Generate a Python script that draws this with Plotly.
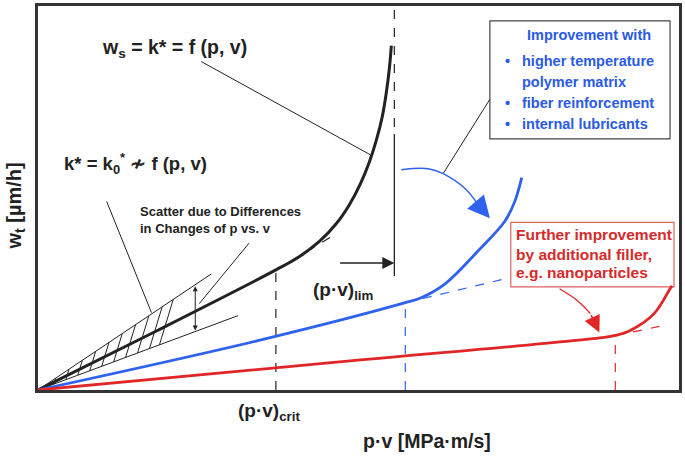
import plotly.graph_objects as go

# ---- data (schematic, x: p·v, y: w_t, arbitrary units) ----
black_x = [0, 120, 239, 262, 283, 300, 313, 324, 333, 340, 346, 350, 353, 355]
black_y = [0, 60, 121, 134, 150, 168, 187, 208, 230, 252, 276, 300, 324, 347]
blue_x = [0, 222, 369, 385, 409, 442, 469, 479, 486]
blue_y = [0, 50, 88, 93, 107, 140, 170, 190, 214]
red_x = [0, 300, 569, 580, 595, 619, 635, 637]
red_y = [0, 28, 53, 55, 60, 77, 102, 105]

crit_black = (239, 121)
crit_blue = (369, 88)
crit_red = (580, 55)
tangent_black_end = (299, 157)
tangent_blue_end = (469, 112)
tangent_red_end = (629, 65)

scatter_upper_slope = 0.672
scatter_lower_slope = 0.373
scatter_upper_end = 174
scatter_lower_end = 201
hatch_bottoms = [16, 28, 40, 52, 64, 76, 88, 100, 112, 122]
hatch_steep = 3.3

lim_x = 358
blue_arc_x = [365, 392, 407, 429, 442]
blue_arc_y = [222, 223, 218, 203, 187]
red_arc_x = [524, 542, 555]
red_arc_y = [102, 90, 77]

X_MAX, Y_MAX = 644, 387

BLACK = "#222222"
BLUE = "#2f62ee"
BLUE_T = "#2a5ae6"
RED = "#e02626"
RED_T = "#d62a2a"
FONT = "Liberation Sans, Arial, sans-serif"

fig = go.Figure()

def line(xs, ys, color, width, dash="solid", shape="linear"):
    fig.add_trace(go.Scatter(x=xs, y=ys, mode="lines", hoverinfo="skip",
                             line=dict(color=color, width=width, dash=dash, shape=shape),
                             showlegend=False))

# scatter band
line([0, scatter_upper_end], [0, scatter_upper_slope * scatter_upper_end], BLACK, 1)
line([0, scatter_lower_end], [0, scatter_lower_slope * scatter_lower_end], BLACK, 1)
for b in hatch_bottoms:
    t = (scatter_upper_slope - scatter_lower_slope) * b / (hatch_steep - scatter_upper_slope)
    line([b, b + t], [scatter_lower_slope * b, scatter_lower_slope * b + hatch_steep * t], BLACK, 1)

# dashed helpers
line([crit_black[0], crit_black[0]], [0, crit_black[1]], BLACK, 1.2, "dash")
line([crit_blue[0], crit_blue[0]], [0, crit_blue[1]], BLUE, 1.2, "dash")
line([crit_red[0], crit_red[0]], [0, crit_red[1]], RED, 1.2, "dash")
line([crit_black[0], tangent_black_end[0]], [crit_black[1], tangent_black_end[1]], BLACK, 1.2, "dash")
line([crit_blue[0], tangent_blue_end[0]], [crit_blue[1], tangent_blue_end[1]], BLUE, 1.2, "dash")
line([crit_red[0], tangent_red_end[0]], [crit_red[1], tangent_red_end[1]], RED, 1.2, "dash")
line([lim_x, lim_x], [265, 387], BLACK, 1.2, "dash")
line([lim_x, lim_x], [115, 258], BLACK, 1.3)

# main curves
line(black_x, black_y, BLACK, 3, shape="spline")
line(blue_x, blue_y, BLUE, 2.8, shape="spline")
line(red_x, red_y, RED, 2.8, shape="spline")

# leader lines
line([164, 334], [331, 237], BLACK, 1)
line([69, 114], [190, 78], BLACK, 1)
line([212, 162], [148, 87], BLACK, 1)
line([454, 407], [293, 218], BLACK, 1)

# curved arrows
line(blue_arc_x, blue_arc_y, BLUE, 1.5, shape="spline")
line(red_arc_x, red_arc_y, RED, 1.3, shape="spline")

ann = []
def arrow(x, y, ax, ay, color, size, width, side="end"):
    ann.append(dict(x=x, y=y, ax=ax, ay=ay, xref="x", yref="y", axref="x", ayref="y",
                    text="", showarrow=True, arrowhead=2, arrowsize=size, arrowwidth=width,
                    arrowcolor=color, arrowside=side, standoff=0, startstandoff=0))

arrow(454, 173, 442, 187, BLUE, 2.2, 2)
arrow(564, 58, 555, 77, RED, 2.2, 1.5)
arrow(lim_x, 128, 302, 128, BLACK, 1.6, 1.5)
arrow(158, 60, 158, 106, BLACK, 1, 1, "end+start")

def txt(x, y, s, size, color=BLACK, xanchor="left", angle=0, bold=True, paper=False):
    if paper:
        x, y = x / X_MAX, y / Y_MAX
    ann.append(dict(x=x, y=y, xref=("paper" if paper else "x"), yref=("paper" if paper else "y"),
                    text=(f"<b>{s}</b>" if bold else s),
                    showarrow=False, xanchor=xanchor, yanchor="middle", textangle=angle,
                    font=dict(family=FONT, size=size, color=color)))

txt(62, 344, "w<sub>s</sub> = k* = f (p, v)", 19.5)
txt(24, 228, "k* = k<sub>0</sub><sup>*</sup> ≁ f (p, v)", 18.5)
txt(100, 180, "Scatter due to Differences", 13)
txt(100, 163, "in Changes of p vs. v", 13)
txt(274, 100, "(p·v)<sub>lim</sub>", 19)
txt(199, -22, "(p·v)<sub>crit</sub>", 19, paper=True)
txt(391, -51, "p·v [MPa·m/s]", 19.5, xanchor="center", paper=True)
txt(-23, 185, "w<sub>t</sub> [µm/h]", 20, xanchor="center", angle=-90, paper=True)

# blue box
txt(554, 358, "Improvement with", 14.5, BLUE_T, xanchor="center")
for yy, s, bullet in [(332, "higher temperature", True), (310, "polymer matrix", False),
                      (289, "fiber reinforcement", True), (268, "internal lubricants", True)]:
    if bullet:
        txt(472, yy, "•", 14.5, BLUE_T, xanchor="center")
    txt(484, yy, s, 14.5, BLUE_T)

# red box
for yy, s in [(157, "Further improvement"), (137, "by additional filler,"), (118, "e.g. nanoparticles")]:
    txt(478, yy, s, 15.5, RED_T)

fig.update_layout(
    width=685, height=456,
    margin=dict(l=38, r=3, t=3, b=66),
    paper_bgcolor="white", plot_bgcolor="white",
    annotations=ann,
    shapes=[
        dict(type="rect", xref="x", yref="y", x0=454, x1=635, y0=253, y1=372,
             line=dict(color="#444444", width=1.2), fillcolor="white", layer="below"),
        dict(type="rect", xref="x", yref="y", x0=475, x1=639, y0=104, y1=169,
             line=dict(color="#e06060", width=1.2), fillcolor="white", layer="below"),
    ],
    xaxis=dict(range=[0, X_MAX], showgrid=False, zeroline=False, showticklabels=False,
               ticks="", showline=True, mirror=True, linecolor="#333333", linewidth=3,
               fixedrange=True),
    yaxis=dict(range=[0, Y_MAX], showgrid=False, zeroline=False, showticklabels=False,
               ticks="", showline=True, mirror=True, linecolor="#333333", linewidth=3,
               fixedrange=True),
)

fig.write_html("out.html", config={"displayModeBar": False},
               post_script="document.body.style.margin='0';document.body.style.overflow='hidden';")
